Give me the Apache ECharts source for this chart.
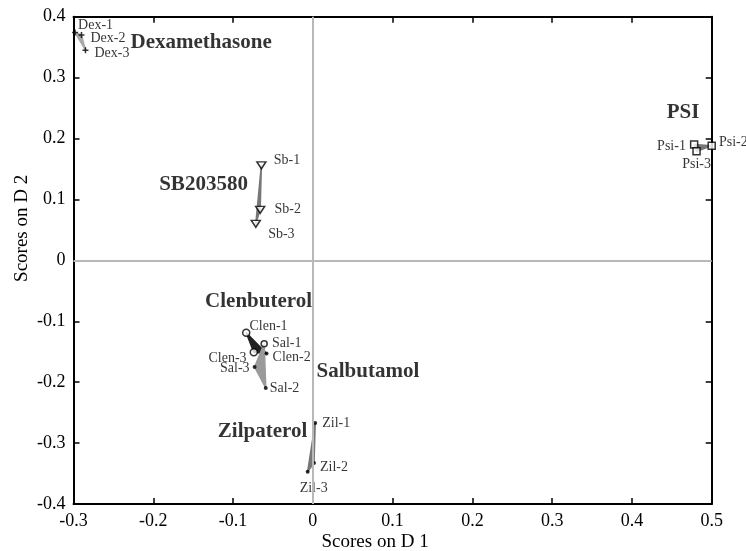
<!DOCTYPE html>
<html>
<head>
<meta charset="utf-8">
<script src="https://cdn.jsdelivr.net/npm/echarts@6/dist/echarts.min.js"></script>
<style>
  html, body { margin: 0; padding: 0; background: #fff; }
  #chart { width: 746px; height: 551px; }
</style>
</head>
<body>
<div id="chart"></div>
<script>
// group names and where their bold captions sit (data units)
const groupNames = ['Dexamethasone', 'SB203580', 'PSI', 'Clenbuterol', 'Salbutamol', 'Zilpaterol']
const groupNameX = [-0.140, -0.137, 0.464, -0.068, 0.069, -0.063]
const groupNameY = [0.357, 0.125, 0.242, -0.068, -0.182, -0.281]

// replicate scores, one list per group
const sampleNames = [
  ['Dex-1', 'Dex-2', 'Dex-3'],
  ['Sb-1', 'Sb-2', 'Sb-3'],
  ['Psi-1', 'Psi-2', 'Psi-3'],
  ['Clen-1', 'Clen-2', 'Clen-3'],
  ['Sal-1', 'Sal-2', 'Sal-3'],
  ['Zil-1', 'Zil-2', 'Zil-3']
]
const scoreD1 = [
  [-0.298, -0.290, -0.285],
  [-0.0645, -0.066, -0.0715],
  [0.478, 0.500, 0.481],
  [-0.0835, -0.058, -0.074],
  [-0.061, -0.059, -0.073],
  [0.003, 0.0015, -0.0065]
]
const scoreD2 = [
  [0.374, 0.370, 0.345],
  [0.156, 0.083, 0.060],
  [0.190, 0.188, 0.179],
  [-0.119, -0.153, -0.151],
  [-0.137, -0.2095, -0.175],
  [-0.267, -0.3325, -0.347]
]

const xTicks = [-0.3, -0.2, -0.1, 0, 0.1, 0.2, 0.3, 0.4, 0.5]
const yTicks = [-0.4, -0.3, -0.2, -0.1, 0, 0.1, 0.2, 0.3, 0.4]

const serif = 'Liberation Serif'

// marker and fill per group
const groupStyle = [
  { symbol: 'path://M-1,-4H1V-1H4V1H1V4H-1V1H-4V-1H-1Z', size: 6, fill: '#000', border: 0, poly: '#aaaaaa' },
  { symbol: 'triangle', size: [9, 7], rotate: 180, fill: '#fff', border: 1.5, poly: '#777777' },
  { symbol: 'rect', size: 7, fill: '#fff', border: 1.5, poly: '#777777' },
  { symbol: 'circle', size: 7, fill: '#fff', border: 1.5, poly: '#222222' },
  { symbol: 'circle', size: 4, fill: '#000', border: 0, poly: '#9a9a9a' },
  { symbol: 'circle', size: 4, fill: '#000', border: 0, poly: '#777777' }
]
// per-sample label placement [position, dx, dy]
const labelPlace = {
  'Dex-1': ['right', -4, -7], 'Dex-2': ['right', 2, 3], 'Dex-3': ['right', 2, 3],
  'Sb-1': ['right', 3, -5], 'Sb-2': ['right', 5, 0], 'Sb-3': ['right', 3, 11],
  'Psi-1': ['left', 0, 2], 'Psi-2': ['right', -1, -4], 'Psi-3': ['bottom', 0, -2],
  'Clen-1': ['right', -5, -7], 'Clen-2': ['right', 0, 4], 'Clen-3': ['left', 1, 6],
  'Sal-1': ['right', 0, 0], 'Sal-2': ['right', -2, 0], 'Sal-3': ['left', 1, 1],
  'Zil-1': ['right', 1, 0], 'Zil-2': ['right', 0, 4], 'Zil-3': ['bottom', 6, 4]
}
// Sal-1 is drawn as an open ring, Clen-2 as a dot
const ringOverride = { 'Clen-2': 'dot', 'Sal-1': 'ring' }

const chart = echarts.init(document.getElementById('chart'), null, { renderer: 'canvas' })

const points = []
sampleNames.forEach((names, g) => {
  names.forEach((n, i) => {
    let st = groupStyle[g]
    if (ringOverride[n] === 'ring') st = groupStyle[3]
    else if (ringOverride[n] === 'dot') st = groupStyle[4]
    const lp = labelPlace[n]
    points.push({
      name: n,
      value: [scoreD1[g][i], scoreD2[g][i]],
      symbol: st.symbol,
      symbolSize: n === 'Sal-1' ? 6 : st.size,
      symbolRotate: st.rotate || 0,
      itemStyle: { color: st.fill, borderColor: '#000', borderWidth: st.border },
      label: {
        show: true, formatter: n, position: lp[0], offset: [lp[1], lp[2]], distance: 4,
        fontFamily: serif, fontSize: 14, color: '#000'
      }
    })
  })
})

const polygons = sampleNames.map((names, g) => [
  scoreD1[g][0], scoreD2[g][0], scoreD1[g][1], scoreD2[g][1], scoreD1[g][2], scoreD2[g][2], g
])

const captions = groupNames.map((n, g) => ({ name: n, value: [groupNameX[g], groupNameY[g]] }))

const tickFmt = v => (Math.abs(v) < 1e-9 ? '0' : v.toFixed(1))

const frameAxis = {
  min: -0.3, max: 0.5, interval: 0.1,
  nameMoveOverlap: false,
  axisLine: { show: true, onZero: false, lineStyle: { color: '#000', width: 2 } },
  axisTick: { show: true, inside: true, length: 6, lineStyle: { color: '#000', width: 1.5 } },
  splitLine: { show: false }
}

chart.setOption({
  animation: false,
  backgroundColor: '#fff',
  grid: { left: 73.5, right: 34.3, top: 16.7, bottom: 47, outerBoundsMode: 'none', containLabel: false },
  xAxis: [
    Object.assign({}, frameAxis, {
      type: 'value', position: 'bottom',
      axisLabel: { formatter: tickFmt, fontFamily: serif, fontSize: 18, color: '#000', margin: 8 },
      name: 'Scores on D 1', nameLocation: 'middle', nameGap: 29,
      nameTextStyle: { fontFamily: serif, fontSize: 19, color: '#000', padding: [0, 35, 0, 0] }
    }),
    Object.assign({}, frameAxis, { type: 'value', position: 'top', axisLabel: { show: false } })
  ],
  yAxis: [
    Object.assign({}, frameAxis, {
      type: 'value', min: -0.4, max: 0.4, position: 'left',
      axisLabel: { formatter: tickFmt, fontFamily: serif, fontSize: 18, color: '#000', margin: 8 },
      name: 'Scores on D 2', nameLocation: 'middle', nameGap: 42,
      nameTextStyle: { fontFamily: serif, fontSize: 19, color: '#000', padding: [0, 0, 0, 64] }
    }),
    Object.assign({}, frameAxis, { type: 'value', min: -0.4, max: 0.4, position: 'right', axisLabel: { show: false } })
  ],
  series: [
    {
      // zero reference lines
      type: 'scatter', data: [], z: 1, silent: true,
      markLine: {
        silent: true, symbol: 'none', animation: false, label: { show: false },
        lineStyle: { color: '#b8b8b8', width: 2, type: 'solid' },
        data: [{ xAxis: 0 }, { yAxis: 0 }]
      }
    },
    {
      type: 'custom', z: 2, silent: true,
      encode: { x: [0, 2, 4], y: [1, 3, 5] },
      data: polygons,
      renderItem: (params, api) => {
        const pts = [0, 1, 2].map(k => api.coord([api.value(k * 2), api.value(k * 2 + 1)]))
        const col = groupStyle[api.value(6)].poly
        return {
          type: 'polygon',
          shape: { points: pts },
          style: { fill: col, stroke: col, lineWidth: 1.5, lineJoin: 'round' }
        }
      }
    },
    {
      type: 'scatter', z: 3, data: points
    },
    {
      type: 'scatter', z: 4, symbolSize: 0, data: captions,
      label: {
        show: true, position: 'inside', formatter: p => p.name,
        fontFamily: serif, fontSize: 21, fontWeight: 'bold', color: '#000'
      }
    }
  ]
})
</script>
</body>
</html>
